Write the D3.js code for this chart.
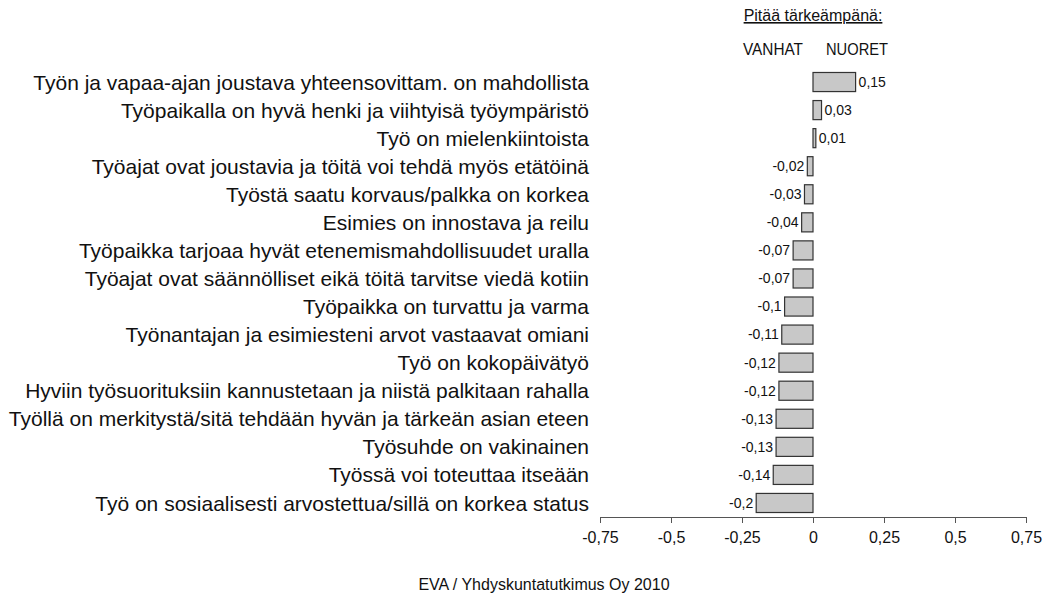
<!DOCTYPE html>
<html>
<head>
<meta charset="utf-8">
<script src="https://cdn.jsdelivr.net/npm/d3@7"></script>
<style>
  body { margin: 0; background: #fff; }
  text { font-family: "Liberation Sans", Arial, sans-serif; }
</style>
</head>
<body>
<svg id="chart" width="1043" height="594"></svg>
<script>
// Difference in importance (young minus old), by statement
const statements = [
  "Työn ja vapaa-ajan joustava yhteensovittam. on mahdollista",
  "Työpaikalla on hyvä henki ja viihtyisä työympäristö",
  "Työ on mielenkiintoista",
  "Työajat ovat joustavia ja töitä voi tehdä myös etätöinä",
  "Työstä saatu korvaus/palkka on korkea",
  "Esimies on innostava ja reilu",
  "Työpaikka tarjoaa hyvät etenemismahdollisuudet uralla",
  "Työajat ovat säännölliset eikä töitä tarvitse viedä kotiin",
  "Työpaikka on turvattu ja varma",
  "Työnantajan ja esimiesteni arvot vastaavat omiani",
  "Työ on kokopäivätyö",
  "Hyviin työsuorituksiin kannustetaan ja niistä palkitaan rahalla",
  "Työllä on merkitystä/sitä tehdään hyvän ja tärkeän asian eteen",
  "Työsuhde on vakinainen",
  "Työssä voi toteuttaa itseään",
  "Työ on sosiaalisesti arvostettua/sillä on korkea status"
];
const differences = [0.15, 0.03, 0.01, -0.02, -0.03, -0.04, -0.07, -0.07, -0.1, -0.11, -0.12, -0.12, -0.13, -0.13, -0.14, -0.2];
const tickValues = [-0.75, -0.5, -0.25, 0, 0.25, 0.5, 0.75];

const svg = d3.select("#chart");
const fmt = v => String(v).replace(".", ",");

const x = d3.scaleLinear().domain([-0.75, 0.75]).range([600, 1026]);
const y = d3.scaleBand().domain(statements).range([68, 517]).paddingInner(0.32).paddingOuter(0.16);

// Bars
svg.append("g").selectAll("rect")
  .data(statements)
  .join("rect")
  .attr("x", (d, i) => x(Math.min(0, differences[i])))
  .attr("y", d => y(d))
  .attr("width", (d, i) => Math.abs(x(differences[i]) - x(0)))
  .attr("height", y.bandwidth())
  .attr("fill", "#c8c8c8")
  .attr("stroke", "#333")
  .attr("stroke-width", 1.2);

// Value labels
svg.append("g").selectAll("text")
  .data(statements)
  .join("text")
  .attr("x", (d, i) => differences[i] >= 0 ? x(differences[i]) + 3 : x(differences[i]) - 3)
  .attr("y", d => y(d) + y.bandwidth() / 2)
  .attr("dy", "0.35em")
  .attr("text-anchor", (d, i) => differences[i] >= 0 ? "start" : "end")
  .attr("font-size", 14)
  .attr("fill", "#111")
  .text((d, i) => fmt(differences[i]));

// Category labels
svg.append("g").selectAll("text")
  .data(statements)
  .join("text")
  .attr("x", 589)
  .attr("y", d => y(d) + y.bandwidth() / 2)
  .attr("dy", "0.36em")
  .attr("text-anchor", "end")
  .attr("font-size", 21)
  .attr("fill", "#111")
  .text(d => d);

// Value axis
const axis = svg.append("g")
  .attr("transform", "translate(0,517)")
  .call(d3.axisBottom(x).tickValues(tickValues).tickSize(6).tickSizeOuter(0).tickPadding(9).tickFormat(fmt));
axis.select(".domain").attr("stroke", "#555");
axis.selectAll(".tick line").attr("stroke", "#555");
axis.selectAll(".tick text")
  .attr("font-size", 16)
  .attr("fill", "#111")
  .style("font-family", "'Liberation Sans', Arial, sans-serif");

// Header
svg.append("text")
  .attr("x", 813).attr("y", 21)
  .attr("text-anchor", "middle")
  .attr("font-size", 16)
  .attr("text-decoration", "underline")
  .attr("fill", "#111")
  .text("Pitää tärkeämpänä:");
svg.append("text")
  .attr("x", 743).attr("y", 55)
  .attr("font-size", 17)
  .attr("textLength", 60)
  .attr("lengthAdjust", "spacingAndGlyphs")
  .attr("fill", "#111")
  .text("VANHAT");
svg.append("text")
  .attr("x", 826).attr("y", 55)
  .attr("font-size", 17)
  .attr("textLength", 62)
  .attr("lengthAdjust", "spacingAndGlyphs")
  .attr("fill", "#111")
  .text("NUORET");

// Source
svg.append("text")
  .attr("x", 544).attr("y", 590)
  .attr("text-anchor", "middle")
  .attr("font-size", 16)
  .attr("fill", "#111")
  .text("EVA / Yhdyskuntatutkimus Oy 2010");
</script>
</body>
</html>
